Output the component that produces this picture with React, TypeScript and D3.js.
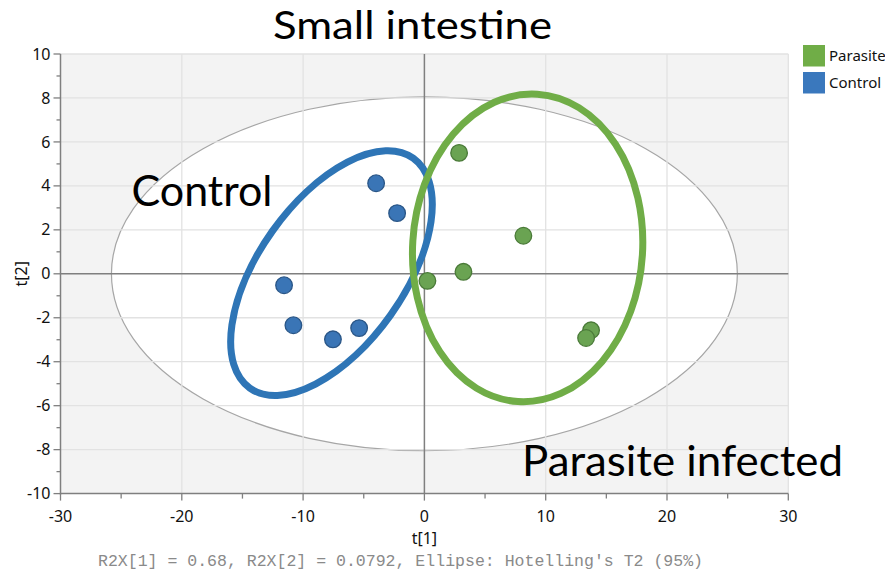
import React from "react";
import * as d3 from "d3";

const title = "Small intestine";
const xLabel = "t[1]";
const yLabel = "t[2]";
const footnote = "R2X[1] = 0.68, R2X[2] = 0.0792, Ellipse: Hotelling's T2 (95%)";
const xTicks = [-30, -20, -10, 0, 10, 20, 30];
const yTicks = [-10, -8, -6, -4, -2, 0, 2, 4, 6, 8, 10];
const xMinor = [-25, -15, -5, 5, 15, 25];
const yMinor = [-9, -7, -5, -3, -1, 1, 3, 5, 7, 9];
const legendNames = ["Parasite", "Control"];

const controlX = [-11.57, -10.8, -7.54, -5.38, -3.98, -2.25];
const controlY = [-0.52, -2.34, -2.98, -2.47, 4.12, 2.76];
const parasiteX = [2.86, 8.16, 3.22, 0.25, 13.74, 13.33];
const parasiteY = [5.5, 1.73, 0.09, -0.32, -2.57, -2.92];

// Hotelling T2 ellipse semi-axes (data units)
const hotelling = [25.8, 8.05];
// Hand-drawn group ellipses: center (data units), semi-axes (px), rotation (deg)
const controlEllipse = { cx: -7.66, cy: 0.03, rx: 141, ry: 72.5, rot: -54.6 };
const parasiteEllipse = { cx: 8.51, cy: 1.18, rx: 154, ry: 115, rot: -86.4 };

const W = 885;
const H = 572;
const blue = "#3a75b6";
const blueStroke = "#2a5687";
const green = "#6aa352";
const greenStroke = "#4a7a38";
const blueLine = "#2e75b6";
const greenLine = "#70ad47";

export default function App() {
  const x = d3.scaleLinear().domain([-30, 30]).range([60.5, 788.3]);
  const y = d3.scaleLinear().domain([-10, 10]).range([493.6, 54]);
  const [x0, x1] = x.range();
  const [y0, y1] = y.range();
  const axisCol = "#7f7f7f";
  const gridCol = "#e2e2e2";

  const controlPts = controlX.map((v, i) => [v, controlY[i]]);
  const parasitePts = parasiteX.map((v, i) => [v, parasiteY[i]]);

  return (
    <svg
      width={W}
      height={H}
      style={{ position: "absolute", left: 0, top: 0, background: "#fff" }}
      fontFamily="'Noto Sans', 'Open Sans', sans-serif"
    >
      <rect x={0} y={0} width={W} height={H} fill="#fff" />
      {/* plot background */}
      <rect x={x0} y={y1} width={x1 - x0} height={y0 - y1} fill="#f3f3f3" />
      {/* Hotelling ellipse */}
      <ellipse
        cx={x(0)}
        cy={y(0)}
        rx={x(hotelling[0]) - x(0)}
        ry={y(0) - y(hotelling[1])}
        fill="#ffffff"
        stroke="#a6a6a6"
        strokeWidth={1.2}
      />
      {/* grid */}
      {yTicks.filter((t) => t !== 0 && t !== -10).map((t) => (
        <line key={"gy" + t} x1={x0} x2={x1} y1={y(t)} y2={y(t)} stroke={gridCol} strokeWidth={1.3} />
      ))}
      {xTicks.filter((t) => t !== 0 && t !== -30).map((t) => (
        <line key={"gx" + t} x1={x(t)} x2={x(t)} y1={y0} y2={y1} stroke={gridCol} strokeWidth={1.3} />
      ))}
      {/* zero lines */}
      <line x1={x0} x2={x1} y1={y(0)} y2={y(0)} stroke={axisCol} strokeWidth={1.5} />
      <line x1={x(0)} x2={x(0)} y1={y0} y2={y1} stroke={axisCol} strokeWidth={1.5} />
      {/* axes */}
      <line x1={x0} x2={x0} y1={y0 + 1} y2={y1} stroke={axisCol} strokeWidth={1.5} />
      <line x1={x0} x2={x1} y1={y0} y2={y0} stroke={axisCol} strokeWidth={1.5} />
      {yTicks.map((t) => (
        <g key={"yt" + t}>
          <line x1={x0 - 7} x2={x0} y1={y(t)} y2={y(t)} stroke={axisCol} strokeWidth={1.3} />
          <text x={x0 - 10} y={y(t)} dy="0.35em" textAnchor="end" fontSize={16} fill="#111">
            {t}
          </text>
        </g>
      ))}
      {yMinor.map((t) => (
        <line key={"ym" + t} x1={x0 - 4} x2={x0} y1={y(t)} y2={y(t)} stroke={axisCol} strokeWidth={1.3} />
      ))}
      {xTicks.map((t) => (
        <g key={"xt" + t}>
          <line x1={x(t)} x2={x(t)} y1={y0} y2={y0 + 7} stroke={axisCol} strokeWidth={1.3} />
          <text x={x(t)} y={y0 + 28} textAnchor="middle" fontSize={16} fill="#111">
            {t}
          </text>
        </g>
      ))}
      {xMinor.map((t) => (
        <line key={"xm" + t} x1={x(t)} x2={x(t)} y1={y0} y2={y0 + 5} stroke={axisCol} strokeWidth={1.3} />
      ))}
      <text x={x(0)} y={544} textAnchor="middle" fontSize={16} fill="#111">
        {xLabel}
      </text>
      <text
        transform={`translate(27,${y(0)}) rotate(-90)`}
        textAnchor="middle"
        fontSize={16}
        fill="#111"
      >
        {yLabel}
      </text>
      <text
        x={98}
        y={566}
        fontSize={16}
        fill="#8a8a8a"
        fontFamily="'Liberation Mono', 'DejaVu Sans Mono', monospace"
        textLength={605}
        lengthAdjust="spacingAndGlyphs"
      >
        {footnote}
      </text>
      {/* group ellipses */}
      <ellipse
        cx={0}
        cy={0}
        rx={controlEllipse.rx}
        ry={controlEllipse.ry}
        transform={`translate(${x(controlEllipse.cx)},${y(controlEllipse.cy)}) rotate(${controlEllipse.rot})`}
        fill="none"
        stroke={blueLine}
        strokeWidth={7}
      />
      <ellipse
        cx={0}
        cy={0}
        rx={parasiteEllipse.rx}
        ry={parasiteEllipse.ry}
        transform={`translate(${x(parasiteEllipse.cx)},${y(parasiteEllipse.cy)}) rotate(${parasiteEllipse.rot})`}
        fill="none"
        stroke={greenLine}
        strokeWidth={7}
      />
      {/* points */}
      {parasitePts.map(([a, b], i) => (
        <circle key={"p" + i} cx={x(a)} cy={y(b)} r={8.3} fill={green} stroke={greenStroke} strokeWidth={1.3} />
      ))}
      {controlPts.map(([a, b], i) => (
        <circle key={"c" + i} cx={x(a)} cy={y(b)} r={8.3} fill={blue} stroke={blueStroke} strokeWidth={1.3} />
      ))}
      {/* legend */}
      {legendNames.map((n, i) => (
        <g key={n} transform={`translate(803,${45 + i * 27})`}>
          <rect width={22} height={21.5} fill={i === 0 ? "#70ad47" : "#3a78bd"} />
          <text x={26} y={15.5} fontSize={15} fill="#111">
            {n}
          </text>
        </g>
      ))}
      {/* annotations */}
      <text x={273} y={39} fontSize={38} fontFamily="Lato, 'Open Sans', sans-serif" fill="#000" textLength={279} lengthAdjust="spacingAndGlyphs">
        {title}
      </text>
      <text x={131.5} y={206} fontSize={42} fontFamily="Lato, 'Open Sans', sans-serif" fill="#000" textLength={141} lengthAdjust="spacingAndGlyphs">
        Control
      </text>
      <text x={522} y={476} fontSize={42} fontFamily="Lato, 'Open Sans', sans-serif" fill="#000" textLength={321} lengthAdjust="spacingAndGlyphs">
        Parasite infected
      </text>
    </svg>
  );
}
